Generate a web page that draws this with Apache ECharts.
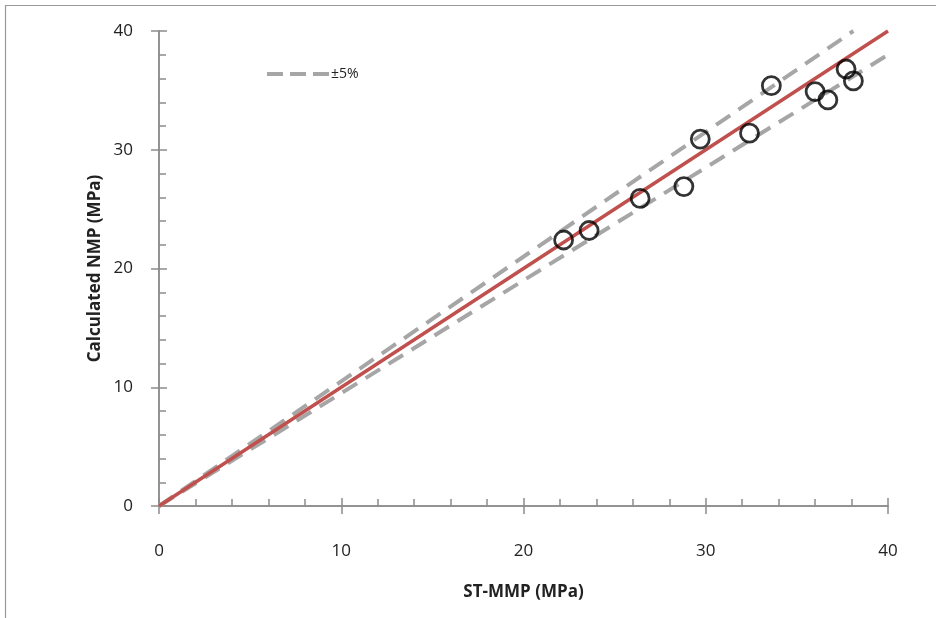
<!DOCTYPE html>
<html>
<head>
<meta charset="utf-8">
<script src="https://cdn.jsdelivr.net/npm/echarts@6/dist/echarts.min.js"></script>
<style>html,body{margin:0;padding:0;background:#fff}#c{width:936px;height:618px}</style>
</head>
<body>
<div id="c"></div>
<script>
// Data
const stMMP   = [22.2, 23.6, 26.4, 28.8, 29.7, 32.4, 33.6, 36.0, 36.7, 37.7, 38.1];
const calcNMP = [22.4, 23.2, 25.9, 26.9, 30.9, 31.4, 35.4, 34.9, 34.2, 36.8, 35.8];
const parityX = [0, 40];
const parityY = [0, 40];
const upperX  = [0, 38.1];
const upperY  = [0, 40];
const lowerX  = [0, 40];
const lowerY  = [0, 38];
const axisTicks = [0, 10, 20, 30, 40];

const zip = (a, b) => a.map((v, i) => [v, b[i]]);
const font = '"Open Sans", "Liberation Sans", sans-serif';
const axisCol = '#8c8c8c';

const baseAxis = (extra) => Object.assign({
  type: 'value', min: axisTicks[0], max: axisTicks[axisTicks.length - 1], interval: 10,
  splitLine: { show: false },
  axisLine: { show: true, lineStyle: { color: axisCol, width: 1.5 } },
}, extra);

const dashIcon = 'path://M0 0 L16 0 L16 4 L0 4 Z M23 0 L39 0 L39 4 L23 4 Z M46 0 L62 0 L62 4 L46 4 Z';

const chart = echarts.init(document.getElementById('c'), null, { renderer: 'canvas' });
chart.setOption({
  animation: false,
  backgroundColor: '#fff',
  graphic: [{
    type: 'rect', shape: { x: 5.5, y: 5.5, width: 1000, height: 1000 },
    style: { fill: 'none', stroke: '#9a9a9a', lineWidth: 1.2 }, silent: true, z: -10
  }],
  grid: { left: 159, right: 48, top: 31, bottom: 112 },
  legend: {
    show: true, left: 262, top: 62, itemWidth: 62, itemHeight: 4, itemGap: 0,
    data: [{ name: '±5%', icon: dashIcon }],
    itemStyle: { color: '#a6a6a6' },
    textStyle: { fontFamily: font, fontSize: 14, color: '#222', padding: [0, 0, 0, -3] }
  },
  xAxis: [
    baseAxis({
      name: 'ST-MMP (MPa)', nameLocation: 'middle', nameGap: 78, nameMoveOverlap: false,
      nameTextStyle: { fontFamily: font, fontSize: 17, fontWeight: 'bold', color: '#222' },
      axisTick: { show: true, inside: false, length: 8, lineStyle: { color: axisCol, width: 1.5 } },
      axisLabel: { fontFamily: font, fontSize: 17, color: '#222', margin: 37 }
    }),
    baseAxis({
      position: 'bottom', offset: 0,
      axisTick: { show: true, inside: true, length: 8, lineStyle: { color: axisCol, width: 1.5 } },
      minorTick: { show: true, splitNumber: 5, length: 7, lineStyle: { color: axisCol, width: 1.5 } },
      axisLabel: { show: false }
    })
  ],
  yAxis: [
    baseAxis({
      name: 'Calculated NMP (MPa)', nameLocation: 'middle', nameGap: 55, nameMoveOverlap: false,
      nameTextStyle: { fontFamily: font, fontSize: 17, fontWeight: 'bold', color: '#222' },
      axisTick: { show: true, inside: false, length: 8, lineStyle: { color: axisCol, width: 1.5 } },
      axisLabel: { fontFamily: font, fontSize: 17, color: '#222', margin: 26 }
    }),
    baseAxis({
      position: 'left', offset: 0,
      axisTick: { show: true, inside: true, length: 8, lineStyle: { color: axisCol, width: 1.5 } },
      minorTick: { show: true, splitNumber: 5, length: 7, lineStyle: { color: axisCol, width: 1.5 } },
      axisLabel: { show: false }
    })
  ],
  series: [
    {
      name: '±5%', type: 'line', data: zip(upperX, upperY), symbol: 'none', z: 2,
      lineStyle: { color: '#a6a6a6', width: 4, type: [17, 10] }, itemStyle: { color: '#a6a6a6' }
    },
    {
      name: '±5%', type: 'line', data: zip(lowerX, lowerY), symbol: 'none', z: 2,
      lineStyle: { color: '#a6a6a6', width: 4, type: [17, 10] }, itemStyle: { color: '#a6a6a6' }
    },
    {
      name: 'parity', type: 'line', data: zip(parityX, parityY), symbol: 'none', z: 3,
      lineStyle: { color: '#c0504d', width: 3.5 }
    },
    {
      name: 'data', type: 'scatter', data: zip(stMMP, calcNMP), symbol: 'circle', symbolSize: 18, z: 4,
      itemStyle: { color: 'rgba(255,255,255,0)', borderColor: '#000', borderWidth: 2.8 }
    }
  ]
});
</script>
</body>
</html>
